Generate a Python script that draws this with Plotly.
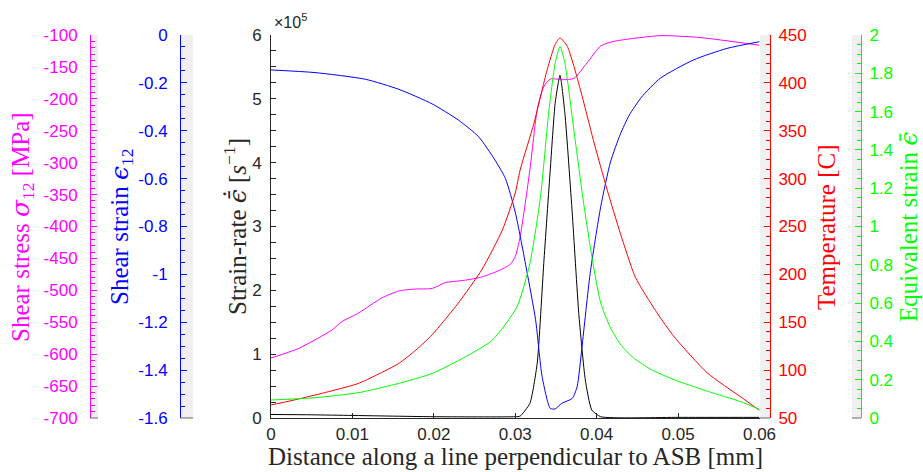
import plotly.graph_objects as go

# ---------------- data ----------------
x_stress = [0, 0.0034, 0.0075, 0.0087, 0.0107, 0.0136, 0.0157, 0.0177, 0.0198, 0.0214, 0.0239,
            0.0259, 0.0282, 0.0294, 0.0300, 0.0306, 0.0318, 0.0327, 0.0335, 0.0343, 0.0359,
            0.0372, 0.0388, 0.0405, 0.0421, 0.0478, 0.0527, 0.0600]
shear_stress = [-606, -591, -562, -549, -536, -512, -501, -498, -497, -488, -484,
                -479, -468, -459, -447, -416, -311, -217, -181, -169, -170,
                -168, -144, -117, -110, -101, -104, -116]

x_strain = [0, 0.0054, 0.0116, 0.0157, 0.0198, 0.0230, 0.0255, 0.0275, 0.0288, 0.0300, 0.0314,
            0.0325, 0.0333, 0.0343, 0.0349, 0.0357, 0.0370, 0.0376, 0.0382, 0.0392, 0.0405,
            0.0417, 0.0429, 0.0440, 0.0455, 0.0478, 0.0519, 0.0560, 0.0600]
shear_strain = [-0.146, -0.157, -0.185, -0.227, -0.288, -0.355, -0.425, -0.522, -0.600, -0.740, -0.982,
                -1.19, -1.427, -1.56, -1.562, -1.539, -1.518, -1.469, -1.302, -0.996, -0.717,
                -0.53, -0.415, -0.335, -0.26, -0.181, -0.104, -0.056, -0.028]

x_rate = [0, 0.005, 0.01, 0.02, 0.03, 0.0306, 0.0318, 0.0327, 0.0335, 0.0343, 0.0349, 0.0355,
          0.0361, 0.0370, 0.0378, 0.0386, 0.0394, 0.0405, 0.05, 0.06]
strain_rate = [0.055e5, 0.05e5, 0.04e5, 0.02e5, 0.02e5, 0.03e5, 0.23e5, 0.86e5, 2.42e5, 3.89e5, 4.93e5,
               5.37e5, 4.77e5, 3.21e5, 1.64e5, 0.6e5, 0.125e5, 0.02e5, 0.01e5, 0.01e5]

x_temp = [0, 0.0027, 0.0054, 0.0080, 0.0107, 0.0130, 0.0157, 0.0178, 0.0198, 0.0230, 0.0259,
          0.0284, 0.0300, 0.0306, 0.0323, 0.0339, 0.0349, 0.0355, 0.0364, 0.0380, 0.0396,
          0.0413, 0.0429, 0.0446, 0.0454, 0.0474, 0.0495, 0.0536, 0.0577, 0.0600]
temperature = [63.6, 68.5, 74, 79.5, 86, 95, 107, 121, 137, 170, 205,
               246, 285, 309, 358, 413, 440, 447, 438, 393, 340,
               288, 243, 200, 187, 160, 135, 97, 72, 58]

x_eq = [0, 0.0054, 0.0107, 0.0157, 0.0198, 0.0239, 0.0272, 0.0302, 0.0318, 0.0331, 0.0341,
        0.0349, 0.0355, 0.0361, 0.0372, 0.0384, 0.0395, 0.0405, 0.0417, 0.0430, 0.0445,
        0.0466, 0.0495, 0.0536, 0.0577, 0.0600]
eq_strain = [0.094, 0.106, 0.132, 0.181, 0.233, 0.320, 0.407, 0.58, 0.808, 1.156, 1.591,
             1.852, 1.94, 1.852, 1.504, 1.121, 0.82, 0.60, 0.47, 0.38, 0.315,
             0.255, 0.20, 0.14, 0.085, 0.045]

x_ticks = [0, 0.01, 0.02, 0.03, 0.04, 0.05, 0.06]
x_ticktext = ["0", "0.01", "0.02", "0.03", "0.04", "0.05", "0.06"]
rate_ticks = [0, 1e5, 2e5, 3e5, 4e5, 5e5, 6e5]
rate_ticktext = ["0", "1", "2", "3", "4", "5", "6"]
stress_ticks = [-700, -650, -600, -550, -500, -450, -400, -350, -300, -250, -200, -150, -100]
strain_ticks = [-1.6, -1.4, -1.2, -1.0, -0.8, -0.6, -0.4, -0.2, 0]
strain_ticktext = ["-1.6", "-1.4", "-1.2", "-1", "-0.8", "-0.6", "-0.4", "-0.2", "0"]
temp_ticks = [50, 100, 150, 200, 250, 300, 350, 400, 450]
eq_ticks = [0, 0.2, 0.4, 0.6, 0.8, 1.0, 1.2, 1.4, 1.6, 1.8, 2.0]
eq_ticktext = ["0", "0.2", "0.4", "0.6", "0.8", "1", "1.2", "1.4", "1.6", "1.8", "2"]

# ---------------- layout geometry ----------------
W, H = 923, 472
px = lambda x: x / W
py = lambda y: 1 - y / H
TOP, BOT = 35, 418
X0, X1 = 271, 759.5
ydom = [py(BOT), py(TOP)]

MAG, BLU, RED, GRN, BLK = "#FF00FF", "#0000FF", "#FF0000", "#00FF00", "#262626"
TICKFONT = dict(family="Liberation Sans, Arial, sans-serif", size=17)
SERIF = "Liberation Serif, Times New Roman, serif"
SYM = "<span style=\"font-family:DejaVu Serif\"><i>%s</i></span>"

fig = go.Figure()
common = dict(mode="lines", line_shape="spline", hoverinfo="skip", showlegend=False)
fig.add_trace(go.Scatter(x=x_stress, y=shear_stress, yaxis="y2", line=dict(color=MAG, width=1, smoothing=0.6), **common))
fig.add_trace(go.Scatter(x=x_strain, y=shear_strain, yaxis="y3", line=dict(color=BLU, width=1, smoothing=0.6), **common))
fig.add_trace(go.Scatter(x=x_temp, y=temperature, yaxis="y4", line=dict(color=RED, width=1, smoothing=0.6), **common))
fig.add_trace(go.Scatter(x=x_eq, y=eq_strain, yaxis="y5", line=dict(color=GRN, width=1, smoothing=0.6), **common))
fig.add_trace(go.Scatter(x=x_rate, y=strain_rate, yaxis="y", line=dict(color="#000000", width=1, smoothing=0.5), **common))


def side_axis(color, pos, side, rng, tickvals, ticktext, minor_dtick, standoff):
    return dict(
        overlaying="y", anchor="free", position=pos, side=side, domain=ydom,
        range=rng, tickvals=tickvals, ticktext=ticktext,
        ticks="inside", ticklen=6, tickwidth=1, tickcolor=color,
        minor=dict(dtick=minor_dtick, ticks="inside", ticklen=4, tickcolor=color, showgrid=False),
        showline=True, linecolor=color, linewidth=1,
        tickfont=dict(color=color, **TICKFONT), ticklabelstandoff=standoff,
        showgrid=False, zeroline=False, fixedrange=True, automargin=False,
    )


fig.update_layout(
    width=W, height=H,
    margin=dict(l=0, r=0, t=0, b=0, pad=0, autoexpand=False),
    paper_bgcolor="white", plot_bgcolor="white",
    showlegend=False,
    xaxis=dict(
        domain=[px(X0), px(X1)], range=[0, 0.06], anchor="y",
        tickvals=x_ticks, ticktext=x_ticktext,
        ticks="inside", ticklen=5, tickcolor=BLK,
        showline=True, linecolor=BLK, linewidth=1,
        tickfont=dict(color=BLK, **TICKFONT), ticklabelstandoff=1,
        showgrid=False, zeroline=False, fixedrange=True, automargin=False,
    ),
    yaxis=dict(
        domain=ydom, range=[0, 6e5], anchor="x",
        tickvals=rate_ticks, ticktext=rate_ticktext,
        ticks="inside", ticklen=5, tickcolor=BLK,
        minor=dict(dtick=0.25e5, ticks="inside", ticklen=5, tickcolor=BLK, showgrid=False),
        showline=True, linecolor=BLK, linewidth=1,
        tickfont=dict(color=BLK, **TICKFONT), ticklabelstandoff=5,
        showgrid=False, zeroline=False, fixedrange=True, automargin=False,
    ),
    yaxis2=side_axis(MAG, px(90), "left", [-700, -100], stress_ticks, [str(v) for v in stress_ticks], 10, 9),
    yaxis3=side_axis(BLU, px(180), "left", [-1.6, 0], strain_ticks, strain_ticktext, 0.05, 9),
    yaxis4=side_axis(RED, px(770), "right", [50, 450], temp_ticks, [str(v) for v in temp_ticks], 10, 4),
    yaxis5=side_axis(GRN, px(861), "right", [0, 2], eq_ticks, eq_ticktext, 0.05, 4),
)

# light grey strips of the auxiliary axes and their dark bottom edges
for xa, xb in [(90, 98), (180, 193), (760, 770), (852, 861)]:
    fig.add_shape(type="rect", xref="paper", yref="paper", x0=px(xa), x1=px(xb), y0=py(BOT), y1=py(TOP),
                  fillcolor="#F0F0F0", line=dict(width=0), layer="below")
    fig.add_shape(type="line", xref="paper", yref="paper", x0=px(xa), x1=px(xb), y0=py(BOT), y1=py(BOT),
                  line=dict(color="#666666", width=1), layer="above")

# axis titles
titles = [
    ("Shear stress " + SYM % "σ" + "<sub>12</sub> [MPa]", 22, MAG),
    ("Shear strain " + SYM % "ϵ" + "<sub>12</sub>", 121, BLU),
    ("Strain-rate " + SYM % "ϵ\u0304\u0307" + " [<i>s</i><sup>−1</sup>]", 236, BLK),
    ("Temperature [C]", 827, RED),
    ("Equivalent strain " + SYM % "ϵ\u0304", 909, GRN),
]
for text, xc, col in titles:
    fig.add_annotation(text=text, xref="paper", yref="paper", x=px(xc), y=py(227),
                       xanchor="center", yanchor="middle", textangle=-90, showarrow=False,
                       font=dict(family=SERIF, size=25, color=col))

fig.add_annotation(text="Distance along a line perpendicular to ASB [mm]", xref="paper", yref="paper",
                   x=px(515), y=py(456), xanchor="center", yanchor="middle", showarrow=False,
                   font=dict(family=SERIF, size=25, color=BLK))
fig.add_annotation(text="×10<sup>5</sup>", xref="paper", yref="paper", x=px(272), y=py(21),
                   xanchor="left", yanchor="middle", showarrow=False,
                   font=dict(family="Liberation Sans, Arial, sans-serif", size=16, color=BLK))

fig.write_html("out.html")
